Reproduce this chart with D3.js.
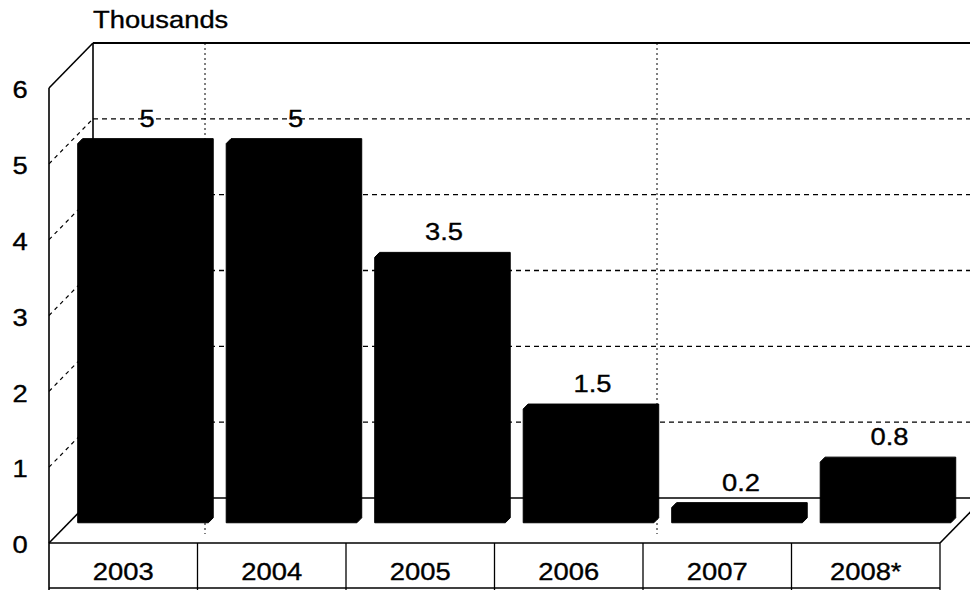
<!DOCTYPE html>
<html>
<head>
<meta charset="utf-8">
<script src="https://cdn.jsdelivr.net/npm/d3@7/dist/d3.min.js"></script>
<style>
  html, body { margin: 0; padding: 0; background: #fff; }
  svg { display: block; }
  text { font-family: "Liberation Sans", Arial, sans-serif; font-size: 24px; fill: #000; stroke: #000; stroke-width: 0.35px; }
</style>
</head>
<body>
<svg id="chart" width="970" height="590"></svg>
<script>
// Yearly totals, in thousands (2008 is provisional)
const categories = ["2003", "2004", "2005", "2006", "2007", "2008*"];
const values = [5, 5, 3.5, 1.5, 0.2, 0.8];
const valueLabels = ["5", "5", "3.5", "1.5", "0.2", "0.8"];
const yTicks = [0, 1, 2, 3, 4, 5, 6];
const gridValues = [1, 2, 3, 4, 5];
const unitLabel = "Thousands";

const W = 970, H = 590;
const FONT = "'Liberation Sans', Arial, sans-serif";
const svg = d3.select("#chart");

// Front plane scales
const x = d3.scaleBand().domain(categories).range([49, 940]).padding(0);
const y = d3.scaleLinear().domain([0, 6]).range([543, 88]);

// Oblique depth vector (front -> back wall)
const DX = 44, DY = -45;
const proj = (px, py, t) => [px + DX * t, py + DY * t];

// Glyphs are drawn wide
const SX = 1.14;

const line = (g, x1, y1, x2, y2, w, dash) =>
  g.append("line").attr("x1", x1).attr("y1", y1).attr("x2", x2).attr("y2", y2)
    .attr("stroke", "#000").attr("stroke-width", w)
    .attr("stroke-dasharray", dash || null);

const walls = svg.append("g");
const x0 = x.range()[0], x1 = x.range()[1];
const [bx0] = proj(x0, 0, 1);

// Back-wall gridlines
gridValues.forEach(v => {
  const [, by] = proj(0, y(v), 1);
  line(walls, bx0, by, W + 20, by, 1.3, "5,4");
  // side wall gridline
  line(walls, x0, y(v), bx0, by, 1.2, "4,4");
});

// Dotted vertical guides on back wall
[205, 657].forEach(gx => line(walls, gx, proj(0, y(6), 1)[1], gx, 534, 1, "2,3"));

// Back wall frame
const [, topBack] = proj(0, y(6), 1);
const [, floorBack] = proj(0, y(0), 1);
line(walls, bx0, topBack, W + 20, topBack, 2);
line(walls, bx0, topBack, bx0, floorBack, 1.6);
line(walls, bx0, floorBack, W + 20, floorBack, 1.4);
// Left wall
line(walls, x0, y(6), bx0, topBack, 1.6);
line(walls, x0, y(6), x0, y(0), 1.6);
// Floor edges
line(walls, x0, y(0), bx0, floorBack, 1.6);
line(walls, x1, y(0), x1 + DX, floorBack, 1.6);

// Bars: front face at depth tF, thin box depth
const tF = 0.45, tB = 0.56;
const pad = x.bandwidth() * 0.06;
const bars = svg.append("g");
categories.forEach((c, i) => {
  const l = x(c) + pad, r = x(c) + x.bandwidth() - pad;
  const b = y(0), tp = y(values[i]);
  const A = proj(l, b, tF), B = proj(l, tp, tF), Cc = proj(l, tp, tB),
        D = proj(r, tp, tB), E = proj(r, b, tB), F = proj(r, b, tF);
  const p = d3.path();
  p.moveTo(...A); p.lineTo(...B); p.lineTo(...Cc); p.lineTo(...D); p.lineTo(...E); p.lineTo(...F); p.closePath();
  bars.append("path").attr("d", p.toString()).attr("fill", "#000").attr("stroke", "#000").attr("stroke-width", 1);

  const cx = (A[0] + F[0]) / 2 + 4;
  bars.append("text")
    .attr("transform", `translate(${cx},${Cc[1] - 12}) scale(${SX},1)`)
    .attr("text-anchor", "middle")
    .text(valueLabels[i]);
});

// Value axis labels
const yAxis = svg.append("g").attr("transform", "translate(20,2)")
  .call(d3.axisLeft(y).tickValues(yTicks).tickSize(0).tickPadding(0).tickFormat(d3.format("d")));
yAxis.select(".domain").remove();
yAxis.selectAll("text")
  .attr("x", 0).attr("text-anchor", "middle")
  .attr("transform", `scale(${SX},1)`)
  .style("font-family", FONT).style("font-size", "24px").attr("fill", "#000");

// Category table below the floor
const table = svg.append("g");
line(table, x0, y(0), x0, H, 1.6);
line(table, x0, 588, x1, 588, 1.4);
categories.forEach(c => line(table, x(c) + x.bandwidth(), y(0), x(c) + x.bandwidth(), H, 1.3));
line(table, x0, y(0), x1, y(0), 1.6);

const xAxis = svg.append("g").attr("transform", `translate(0,${y(0)})`)
  .call(d3.axisBottom(x).tickSize(0).tickPadding(0));
xAxis.select(".domain").remove();
xAxis.selectAll("text")
  .attr("y", 37).attr("dy", 0)
  .attr("transform", `scale(${SX},1)`)
  .style("font-family", FONT).style("font-size", "24px").attr("fill", "#000");

// Unit caption
svg.append("text")
  .attr("transform", `translate(93,28) scale(${SX},1)`)
  .text(unitLabel);
</script>
</body>
</html>
